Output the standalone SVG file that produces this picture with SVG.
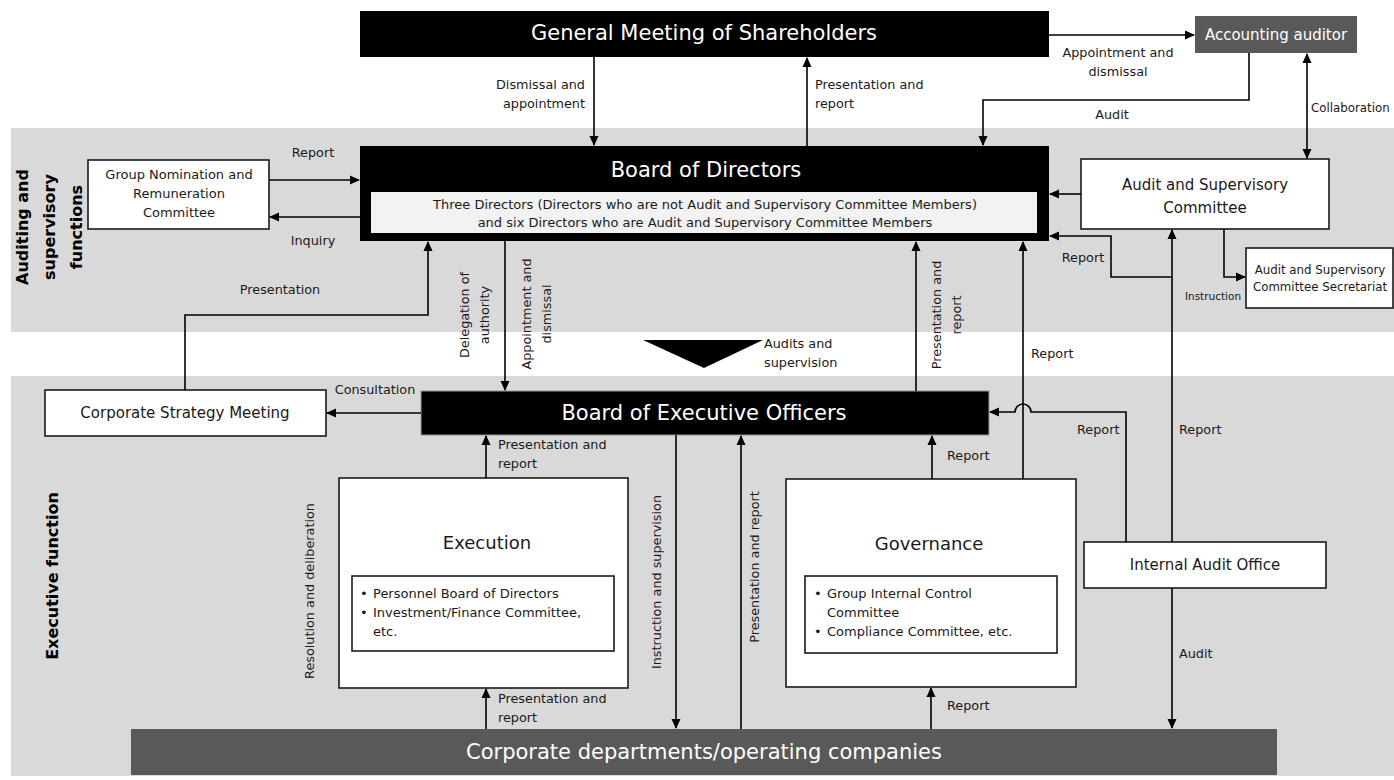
<svg xmlns="http://www.w3.org/2000/svg" width="1394" height="780" viewBox="0 0 1394 780">
<defs>
<marker id="ah" markerUnits="userSpaceOnUse" markerWidth="10" markerHeight="10" refX="9" refY="4.5" orient="auto-start-reverse" viewBox="0 0 10 9">
<path d="M0,0 L10,4.5 L0,9 z" fill="#000"/>
</marker>
<style>
text{font-family:"DejaVu Sans","Liberation Sans",sans-serif;fill:#1a1a1a}
.band{fill:#d9d9d9}
.blk{fill:#000}
.gry{fill:#595959}
.box{fill:#fff;stroke:#1a1a1a;stroke-width:1.6}
.wt{fill:#fff}
.big{font-size:21px}
.mid{font-size:15px}
.sm{font-size:12.8px}
.in{font-size:13px}
.xs{font-size:10.5px}
.bold{font-size:16px;font-weight:bold;fill:#000}
.c{text-anchor:middle}
.r{text-anchor:end}
.con path{fill:none;stroke:#000;stroke-width:1.6}
.arr{marker-end:url(#ah)}
.dbl{marker-start:url(#ah);marker-end:url(#ah)}
</style>
</defs>

<rect class="band" x="11" y="128" width="1383" height="204"/>
<rect class="band" x="11" y="376" width="1383" height="400"/>

<g id="label-auditing">
<g transform="translate(0,227) rotate(-90)">
<text class="bold c"><tspan x="0" y="28">Auditing and</tspan><tspan x="0" y="55">supervisory</tspan><tspan x="0" y="82">functions</tspan></text>
</g>
</g>
<g id="label-executive">
<text class="bold c" transform="translate(58,576) rotate(-90)">Executive function</text>
</g>

<g id="gms">
<rect class="blk" x="360" y="11" width="689" height="46"/>
<text class="big c wt" x="704" y="40">General Meeting of Shareholders</text>
</g>

<g id="accounting-auditor">
<rect class="gry" x="1195" y="16" width="162" height="37"/>
<text class="mid c wt" x="1276" y="40">Accounting auditor</text>
</g>

<g id="bod">
<rect class="blk" x="360" y="146" width="689" height="95"/>
<text class="big c wt" x="706" y="177">Board of Directors</text>
<rect x="371" y="192" width="666" height="41" fill="#f2f2f2"/>
<text class="in c" x="705" y="209">Three Directors (Directors who are not Audit and Supervisory Committee Members)</text>
<text class="in c" x="705" y="227">and six Directors who are Audit and Supervisory Committee Members</text>
</g>

<g id="gnrc">
<rect class="box" x="88" y="160" width="181" height="69"/>
<text class="in c" x="179" y="179">Group Nomination and</text>
<text class="in c" x="179" y="198">Remuneration</text>
<text class="in c" x="179" y="217">Committee</text>
</g>

<g id="asc">
<rect class="box" x="1081" y="159" width="248" height="70"/>
<text class="mid c" x="1205" y="190">Audit and Supervisory</text>
<text class="mid c" x="1205" y="213">Committee</text>
</g>

<g id="asc-secretariat">
<rect class="box" x="1246" y="248" width="147" height="60"/>
<text class="c" style="font-size:11.8px" x="1320" y="274">Audit and Supervisory</text>
<text class="c" style="font-size:11.8px" x="1320" y="291">Committee Secretariat</text>
</g>

<g id="csm">
<rect class="box" x="45" y="390" width="281" height="46"/>
<text class="mid c" x="185" y="418">Corporate Strategy Meeting</text>
</g>

<g id="boe">
<rect class="blk" x="421" y="391" width="568" height="44" stroke="#999" stroke-width="1"/>
<text class="big c wt" x="704" y="420">Board of Executive Officers</text>
</g>

<g id="execution">
<rect class="box" x="339" y="478" width="289" height="210"/>
<text class="c" style="font-size:18px" x="487" y="549">Execution</text>
<rect class="box" x="352" y="576" width="262" height="75"/>
<text class="in" x="360" y="598">•</text>
<text class="in" x="373" y="598">Personnel Board of Directors</text>
<text class="in" x="360" y="617">•</text>
<text class="in" x="373" y="617">Investment/Finance Committee,</text>
<text class="in" x="373" y="636">etc.</text>
</g>

<g id="governance">
<rect class="box" x="786" y="479" width="290" height="208"/>
<text class="c" style="font-size:18px" x="929" y="550">Governance</text>
<rect class="box" x="805" y="576" width="252" height="77"/>
<text class="in" x="814" y="598">•</text>
<text class="in" x="827" y="598">Group Internal Control</text>
<text class="in" x="827" y="617">Committee</text>
<text class="in" x="814" y="636">•</text>
<text class="in" x="827" y="636">Compliance Committee, etc.</text>
</g>

<g id="iao">
<rect class="box" x="1084" y="542" width="242" height="46"/>
<text class="mid c" x="1205" y="570">Internal Audit Office</text>
</g>

<g id="corp">
<rect class="gry" x="131" y="729" width="1146" height="46"/>
<text class="big c wt" x="704" y="759">Corporate departments/operating companies</text>
</g>

<g id="audits-supervision">
<polygon points="643,340 763,340 704,368" fill="#000"/>
<text class="sm" x="764" y="348">Audits and</text>
<text class="sm" x="764" y="367">supervision</text>
</g>

<g id="connectors" class="con">
<path class="arr" d="M594,57 V145"/>
<path class="arr" d="M807,146 V58"/>
<path class="arr" d="M1049,35 H1194"/>
<path class="arr" d="M1249,53 V100 H983 V145"/>
<path class="dbl" d="M1307,54 V158"/>
<path class="arr" d="M269,180 H359"/>
<path class="arr" d="M360,217 H270"/>
<path class="arr" d="M1081,194 H1050"/>
<path class="arr" d="M1172,277 H1111 V236 H1050"/>
<path class="arr" d="M1224,229 V277 H1245"/>
<path class="arr" d="M1172,542 V230"/>
<path class="arr" d="M1126,542 V412 H1031 A8,8 0 0 0 1015,412 H990"/>
<path class="arr" d="M1023,479 V242"/>
<path class="arr" d="M916,391 V242"/>
<path class="arr" d="M505,241 V390"/>
<path class="arr" d="M185,390 V315 H428 V242"/>
<path class="arr" d="M421,413 H327"/>
<path class="arr" d="M486,478 V436"/>
<path class="arr" d="M486,729 V689"/>
<path class="arr" d="M676,435 V728"/>
<path class="arr" d="M741,729 V436"/>
<path class="arr" d="M932,479 V436"/>
<path class="arr" d="M931,729 V688"/>
<path class="arr" d="M1172,588 V728"/>
</g>

<g id="connector-labels">
<text class="sm r" x="585" y="89">Dismissal and</text>
<text class="sm r" x="585" y="108">appointment</text>
<text class="sm" x="815" y="89">Presentation and</text>
<text class="sm" x="815" y="108">report</text>
<text class="sm c" x="1118" y="57">Appointment and</text>
<text class="sm c" x="1118" y="76">dismissal</text>
<text class="sm c" x="1112" y="119">Audit</text>
<text style="font-size:11.8px" x="1311" y="112">Collaboration</text>
<text class="sm c" x="313" y="157">Report</text>
<text class="sm c" x="313" y="245">Inquiry</text>
<text class="sm c" x="1083" y="262">Report</text>
<text class="xs c" x="1213" y="300">Instruction</text>
<text class="sm c" x="280" y="294">Presentation</text>
<text class="sm c" x="375" y="394">Consultation</text>
<text class="sm" x="1031" y="358">Report</text>
<text class="sm" x="1077" y="434">Report</text>
<text class="sm" x="1179" y="434">Report</text>
<text class="sm" x="947" y="460">Report</text>
<text class="sm" x="498" y="449">Presentation and</text>
<text class="sm" x="498" y="468">report</text>
<text class="sm" x="498" y="703">Presentation and</text>
<text class="sm" x="498" y="722">report</text>
<text class="sm" x="947" y="710">Report</text>
<text class="sm" x="1179" y="658">Audit</text>
<g transform="translate(475,315) rotate(-90)">
<text class="sm c"><tspan x="0" y="-6">Delegation of</tspan><tspan x="0" y="14">authority</tspan></text>
</g>
<g transform="translate(537,314) rotate(-90)">
<text class="sm c"><tspan x="0" y="-6">Appointment and</tspan><tspan x="0" y="14">dismissal</tspan></text>
</g>
<g transform="translate(947,315) rotate(-90)">
<text class="sm c"><tspan x="0" y="-6">Presentation and</tspan><tspan x="0" y="14">report</tspan></text>
</g>
<text class="sm c" transform="translate(314,591) rotate(-90)">Resolution and deliberation</text>
<text class="sm c" transform="translate(661,582) rotate(-90)">Instruction and supervision</text>
<text class="sm c" transform="translate(759,567) rotate(-90)">Presentation and report</text>
</g>
</svg>
